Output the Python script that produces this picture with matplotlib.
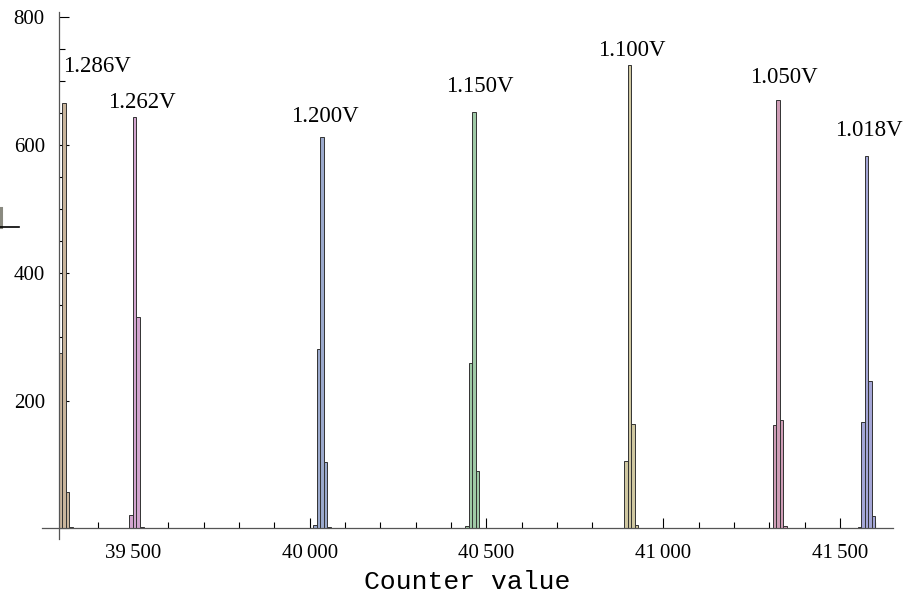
import numpy as np
import matplotlib.pyplot as plt
from matplotlib.ticker import MultipleLocator, FuncFormatter
from matplotlib.lines import Line2D

plt.rcParams['font.family'] = ['Liberation Serif', 'DejaVu Serif']

# histogram bins (left edge, width 10) and counts, one list per supply voltage
voltages = ["1.286V", "1.262V", "1.200V", "1.150V", "1.100V", "1.050V", "1.018V"]
bin_edges = [
    [39290, 39300, 39310, 39320, 39370],
    [39490, 39500, 39510, 39520],
    [40010, 40020, 40030, 40040, 40050],
    [40440, 40450, 40460, 40470],
    [40840, 40890, 40900, 40910, 40920],
    [41310, 41320, 41330, 41340],
    [41550, 41560, 41570, 41580, 41590],
]
counts = [
    [274, 666, 57, 2, 1],
    [21, 644, 330, 2],
    [5, 280, 612, 104, 2],
    [3, 259, 652, 89],
    [1, 106, 725, 164, 5],
    [161, 670, 169, 3],
    [2, 166, 583, 231, 20],
]
label_x = [39397, 39525, 40043, 40481, 40911, 41341, 41582]
label_y = [723, 667, 644, 691, 748, 706, 622]
colors = ["#c9b59c", "#d3a5cf", "#9ba9cc", "#9fc9a6", "#cfc7a0", "#cf9db6", "#a4a6d6"]
bin_width = 10

fig = plt.figure(figsize=(9.16, 5.96), dpi=100)
ax = fig.add_axes([41.7 / 916, 57 / 596, (893 - 41.7) / 916, (539 - 12) / 596])

for edges, cnt, col in zip(bin_edges, counts, colors):
    ax.bar(edges, cnt, width=bin_width, align="edge", color=col,
           edgecolor="#333333", linewidth=0.7, zorder=2, clip_on=False)

for txt, x, y in zip(voltages, label_x, label_y):
    ax.text(x, y, txt, ha="center", va="center", fontsize=16.5, color="black")

ax.set_xlim(39242, 41650)
ax.set_ylim(-16.7, 808)

ax.spines["top"].set_visible(False)
ax.spines["right"].set_visible(False)
ax.spines["left"].set_position(("data", 39290))
ax.spines["bottom"].set_position(("data", 0))
for s in ["left", "bottom"]:
    ax.spines[s].set_color("#555555")
    ax.spines[s].set_linewidth(0.9)
    ax.spines[s].set_zorder(3)

ax.xaxis.set_major_locator(MultipleLocator(500))
ax.xaxis.set_minor_locator(MultipleLocator(100))
ax.yaxis.set_major_locator(MultipleLocator(200))
ax.yaxis.set_minor_locator(MultipleLocator(50))
ax.xaxis.set_major_formatter(FuncFormatter(lambda v, p: f"{int(v):,}".replace(",", "\u2009")))
ax.yaxis.set_major_formatter(FuncFormatter(lambda v, p: "" if v <= 0 else f"{int(v)}"))

ax.tick_params(which="both", direction="in", color="black", width=0.8, labelsize=15)
ax.tick_params(which="major", length=7)
ax.tick_params(which="minor", length=4)
ax.tick_params(axis="x", which="major", pad=11)
ax.tick_params(axis="y", which="major", pad=10)

ax.set_xlabel("Counter value", family="Liberation Mono", fontsize=19, labelpad=5)

# clipped fragment of the y label at the left edge
fig.add_artist(Line2D([1 / 916, 1 / 916], [1 - 208 / 596, 1 - 227 / 596],
                      color="#8a8a80", linewidth=2.2))
fig.add_artist(Line2D([0, 19 / 916], [1 - 227 / 596, 1 - 227 / 596],
                      color="black", linewidth=1.2))

fig.savefig("out.png", dpi=100)
